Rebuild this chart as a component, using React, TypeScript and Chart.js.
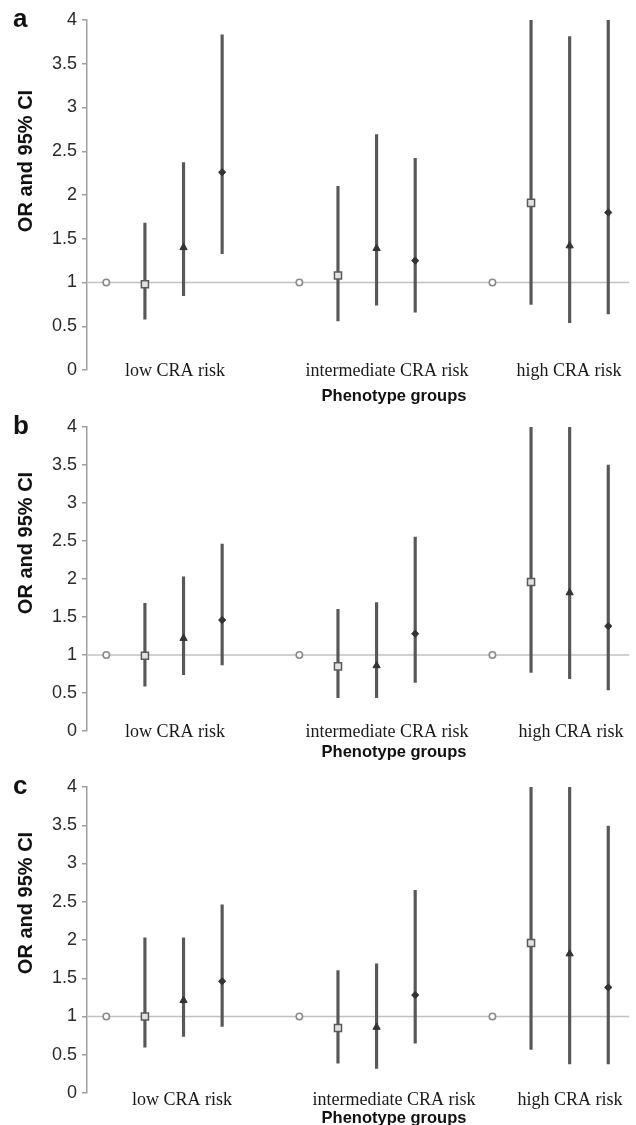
import React, { useEffect, useRef } from "react";
import { Chart, registerables } from "chart.js";

Chart.register(...registerables);

// ---------- data ----------
const groups = ["low CRA risk", "intermediate CRA risk", "high CRA risk"];
const yTickValues = [0, 0.5, 1, 1.5, 2, 2.5, 3, 3.5, 4];
const referenceOR = 1;
const groupStart = [0, 5, 10]; // slot of each group's reference point
const xTitle = "Phenotype groups";
const yTitle = "OR and 95% CI";

// Panel a
const aSquareOR = [0.98, 1.08, 1.91];
const aSquareLow = [0.58, 0.56, 0.75];
const aSquareHigh = [1.68, 2.1, 4.5];
const aTriangleOR = [1.4, 1.39, 1.42];
const aTriangleLow = [0.85, 0.74, 0.54];
const aTriangleHigh = [2.37, 2.69, 3.81];
const aDiamondOR = [2.26, 1.25, 1.8];
const aDiamondLow = [1.33, 0.66, 0.64];
const aDiamondHigh = [3.83, 2.42, 4.5];

// Panel b
const bSquareOR = [0.99, 0.85, 1.96];
const bSquareLow = [0.59, 0.44, 0.77];
const bSquareHigh = [1.68, 1.6, 4.5];
const bTriangleOR = [1.22, 0.86, 1.82];
const bTriangleLow = [0.74, 0.44, 0.69];
const bTriangleHigh = [2.03, 1.69, 4.5];
const bDiamondOR = [1.46, 1.28, 1.38];
const bDiamondLow = [0.87, 0.64, 0.54];
const bDiamondHigh = [2.46, 2.55, 3.5];

// Panel c
const cSquareOR = [1.0, 0.85, 1.96];
const cSquareLow = [0.6, 0.39, 0.57];
const cSquareHigh = [2.03, 1.6, 4.5];
const cTriangleOR = [1.21, 0.86, 1.82];
const cTriangleLow = [0.74, 0.32, 0.38];
const cTriangleHigh = [2.03, 1.69, 4.5];
const cDiamondOR = [1.46, 1.28, 1.38];
const cDiamondLow = [0.87, 0.65, 0.38];
const cDiamondHigh = [2.46, 2.65, 3.49];

type Series = { or: number[]; low: number[]; high: number[] };
type PanelData = { square: Series; triangle: Series; diamond: Series };

const panelA: PanelData = {
  square: { or: aSquareOR, low: aSquareLow, high: aSquareHigh },
  triangle: { or: aTriangleOR, low: aTriangleLow, high: aTriangleHigh },
  diamond: { or: aDiamondOR, low: aDiamondLow, high: aDiamondHigh },
};
const panelB: PanelData = {
  square: { or: bSquareOR, low: bSquareLow, high: bSquareHigh },
  triangle: { or: bTriangleOR, low: bTriangleLow, high: bTriangleHigh },
  diamond: { or: bDiamondOR, low: bDiamondLow, high: bDiamondHigh },
};
const panelC: PanelData = {
  square: { or: cSquareOR, low: cSquareLow, high: cSquareHigh },
  triangle: { or: cTriangleOR, low: cTriangleLow, high: cTriangleHigh },
  diamond: { or: cDiamondOR, low: cDiamondLow, high: cDiamondHigh },
};

// ---------- layout ----------
type Layout = {
  letter: string;
  top: number;
  height: number;
  padTop: number;
  padBottom: number;
  letterY: number;
  yTitleY: number;
  catX: number[];
  catDy: number;
  titleDy: number;
};

const SANS = '"Liberation Sans", Arial, Helvetica, sans-serif';
const SERIF = '"Liberation Serif", "Times New Roman", serif';

function makeTextPlugin(L: Layout) {
  return {
    id: "panelText",
    afterDraw(chart: any) {
      const ctx = chart.ctx as CanvasRenderingContext2D;
      const area = chart.chartArea;
      ctx.save();
      ctx.fillStyle = "#111";
      ctx.textBaseline = "middle";
      ctx.textAlign = "left";
      ctx.font = `bold 26px ${SANS}`;
      ctx.fillText(L.letter, 13, L.letterY);

      ctx.save();
      ctx.translate(26, L.yTitleY);
      ctx.rotate(-Math.PI / 2);
      ctx.textAlign = "center";
      ctx.font = `bold 20px ${SANS}`;
      ctx.fillText(yTitle, 0, 0);
      ctx.restore();

      ctx.fillStyle = "#1a1a1a";
      ctx.textAlign = "center";
      ctx.font = `18px ${SERIF}`;
      groups.forEach((g, i) => ctx.fillText(g, L.catX[i], area.bottom + L.catDy));

      ctx.fillStyle = "#111";
      ctx.font = `bold 16.5px ${SANS}`;
      ctx.fillText(xTitle, 394, area.bottom + L.titleDy);
      ctx.restore();
    },
  };
}

function Panel({ data, L }: { data: PanelData; L: Layout }) {
  const ref = useRef<HTMLCanvasElement | null>(null);
  useEffect(() => {
    if (!ref.current) return;
    const kinds: (keyof PanelData)[] = ["square", "triangle", "diamond"];
    const bars: any[] = [];
    kinds.forEach((k, si) => {
      groups.forEach((_, gi) => {
        bars.push({ x: groupStart[gi] + si + 1, y: [data[k].low[gi], data[k].high[gi]] });
      });
    });
    const pts = (k: keyof PanelData, si: number) =>
      groups.map((_, gi) => ({ x: groupStart[gi] + si + 1, y: data[k].or[gi] }));

    const chart = new Chart(ref.current, {
      type: "bar",
      data: {
        datasets: [
          {
            type: "line",
            data: [
              { x: -0.5, y: referenceOR },
              { x: 13.55, y: referenceOR },
            ],
            borderColor: "#c2c2c2",
            borderWidth: 1.5,
            pointRadius: 0,
            order: 6,
          } as any,
          {
            type: "bar",
            data: bars,
            backgroundColor: "#585858",
            borderWidth: 0,
            barThickness: 2.5,
            order: 5,
          } as any,
          {
            type: "scatter",
            data: groups.map((_, gi) => ({ x: groupStart[gi], y: referenceOR })),
            pointStyle: "circle",
            pointRadius: 3.2,
            borderColor: "#8a8a8a",
            backgroundColor: "#ffffff",
            borderWidth: 1.6,
            order: 1,
          } as any,
          {
            type: "scatter",
            data: pts("square", 0),
            pointStyle: "rect",
            pointRadius: 5,
            borderColor: "#5a5a5a",
            backgroundColor: "#e2e2e2",
            borderWidth: 1.5,
            order: 1,
          } as any,
          {
            type: "scatter",
            data: pts("triangle", 1),
            pointStyle: "triangle",
            pointRadius: 4.2,
            borderColor: "#333",
            backgroundColor: "#333",
            borderWidth: 1,
            order: 1,
          } as any,
          {
            type: "scatter",
            data: pts("diamond", 2),
            pointStyle: "rectRot",
            pointRadius: 3.6,
            borderColor: "#333",
            backgroundColor: "#333",
            borderWidth: 1,
            order: 1,
          } as any,
        ],
      },
      options: {
        responsive: false,
        animation: false,
        devicePixelRatio: 1,
        layout: { padding: { top: L.padTop, bottom: L.padBottom, left: 0, right: 0 } },
        plugins: { legend: { display: false }, tooltip: { enabled: false } },
        scales: {
          x: { type: "linear", min: -0.5, max: 13.55, offset: false, display: false },
          y: {
            type: "linear",
            min: 0,
            max: 4,
            afterBuildTicks: (s: any) => {
              s.ticks = yTickValues.map((v) => ({ value: v }));
            },
            afterFit: (s: any) => {
              s.width = 87;
            },
            ticks: {
              color: "#2a2a2a",
              padding: 5,
              font: { family: SANS, size: 18 },
              callback: (v: any) => String(v),
            },
            grid: { drawOnChartArea: false, drawTicks: true, tickLength: 5, color: "#a0a0a0", lineWidth: 1.5 },
            border: { display: true, color: "#a0a0a0", width: 1.5 },
          },
        },
      } as any,
      plugins: [makeTextPlugin(L)],
    });
    return () => chart.destroy();
  }, [data, L]);
  return (
    <canvas
      ref={ref}
      width={636}
      height={L.height}
      style={{ position: "absolute", left: 0, top: L.top, width: 636, height: L.height }}
    />
  );
}

const layoutA: Layout = {
  letter: "a", top: 0, height: 412, padTop: 20, padBottom: 42,
  letterY: 20, yTitleY: 161, catX: [175, 387, 569], catDy: 1, titleDy: 26,
};
const layoutB: Layout = {
  letter: "b", top: 400, height: 370, padTop: 27, padBottom: 39,
  letterY: 27, yTitleY: 143, catX: [175, 387, 571], catDy: 1, titleDy: 21,
};
const layoutC: Layout = {
  letter: "c", top: 770, height: 355, padTop: 17, padBottom: 32,
  letterY: 17, yTitleY: 133, catX: [182, 394, 570], catDy: 7, titleDy: 25,
};

export default function App() {
  return (
    <div style={{ position: "absolute", left: 0, top: 0, width: 636, height: 1125, background: "#fff", overflow: "hidden" }}>
      <Panel data={panelA} L={layoutA} />
      <Panel data={panelB} L={layoutB} />
      <Panel data={panelC} L={layoutC} />
    </div>
  );
}
